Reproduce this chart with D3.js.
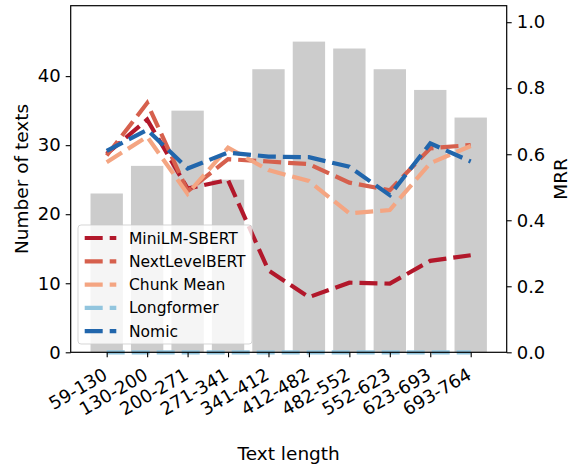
<!DOCTYPE html>
<html lang="en">
	<head>
		<meta charset="utf-8">
		<title>texts by length and MRR</title>
		<script src="https://cdn.jsdelivr.net/npm/d3@7"></script>
		<style type="text/css">
			body { margin: 0; background: #fff; }
			text { font-family: "DejaVu Sans", sans-serif; fill: #000; }
		</style>
	</head>

	<body>
		<script type="text/javascript">

		// chart size
		var w = 571;
		var h = 466;
		var plotLeft = 70.7, plotRight = 506.7, plotTop = 5.7, plotBottom = 352.3;
		var tickFont = 18;
		var labelFont = 18.5;
		var legendFont = 15.5;
		var dash = "18,7";

		// data
		var lengthBins = ["59-130", "130-200", "200-271", "271-341", "341-412",
			"412-482", "482-552", "552-623", "623-693", "693-764"];
		var textCounts = [23, 27, 35, 25, 41, 45, 44, 41, 38, 34];

		var modelNames = ["MiniLM-SBERT", "NextLevelBERT", "Chunk Mean", "Longformer", "Nomic"];
		var miniLM     = [0.601, 0.705, 0.496, 0.522, 0.248, 0.167, 0.211, 0.208, 0.277, 0.294];
		var nextLevel  = [0.596, 0.755, 0.488, 0.585, 0.578, 0.570, 0.514, 0.491, 0.618, 0.628];
		var chunkMean  = [0.576, 0.653, 0.480, 0.620, 0.552, 0.519, 0.421, 0.431, 0.573, 0.625];
		var longformer = [0, 0, 0, 0, 0, 0, 0, 0, 0, 0];
		var nomic      = [0.610, 0.674, 0.557, 0.605, 0.593, 0.591, 0.562, 0.476, 0.633, 0.578];

		var countTicks = [0, 10, 20, 30, 40];
		var mrrTicks = [0, 0.2, 0.4, 0.6, 0.8, 1.0];

		var colors = [
			"#b2182b",  // MiniLM-SBERT
			"#d6604d",  // NextLevelBERT
			"#f4a582",  // Chunk Mean
			"#92c5de",  // Longformer
			"#2166ac"   // Nomic
		];

		var series = [miniLM, nextLevel, chunkMean, longformer, nomic];

		var svg = d3.select("body")
			.append("svg")
			.attr("width", w)
			.attr("height", h);

		// scales
		var x = d3.scaleLinear()
			.domain([-0.89, lengthBins.length - 1 + 0.89])
			.range([plotLeft, plotRight]);
		var yCount = d3.scaleLinear()
			.domain([0, 50.2])
			.range([plotBottom, plotTop]);
		var yMrr = d3.scaleLinear()
			.domain([0, 1.05])
			.range([plotBottom, plotTop]);

		// bars
		var barW = x(0.4) - x(-0.4);
		svg.append("g")
			.selectAll("rect")
			.data(textCounts)
			.enter()
			.append("rect")
			.attr("x", function(d, i) { return x(i) - barW / 2; })
			.attr("y", function(d) { return yCount(d); })
			.attr("width", barW)
			.attr("height", function(d) { return yCount(0) - yCount(d); })
			.attr("fill", "#cccccc");

		// lines
		var line = d3.line()
			.x(function(d, i) { return x(i); })
			.y(function(d) { return yMrr(d); });

		svg.append("g")
			.selectAll("path")
			.data(series)
			.enter()
			.append("path")
			.attr("d", line)
			.attr("fill", "none")
			.attr("stroke", function(d, i) { return colors[i]; })
			.attr("stroke-width", 4.2)
			.attr("stroke-dasharray", dash);

		// axes
		var xAxis = d3.axisBottom(x)
			.tickValues(d3.range(lengthBins.length))
			.tickFormat(function(d) { return lengthBins[d]; })
			.tickSizeOuter(0)
			.tickSize(5);
		var gx = svg.append("g")
			.attr("transform", "translate(0," + plotBottom + ")")
			.call(xAxis);
		gx.select(".domain").remove();
		gx.selectAll("text")
			.attr("font-size", tickFont)
			.attr("text-anchor", "end")
			.attr("dy", null)
			.attr("y", null)
			.attr("transform", "translate(1.5,26) rotate(-30)");

		var gl = svg.append("g")
			.attr("transform", "translate(" + plotLeft + ",0)")
			.call(d3.axisLeft(yCount).tickValues(countTicks).tickSize(5).tickPadding(5));
		gl.select(".domain").remove();
		gl.selectAll("text").attr("font-size", tickFont);

		var gr = svg.append("g")
			.attr("transform", "translate(" + plotRight + ",0)")
			.call(d3.axisRight(yMrr).tickValues(mrrTicks).tickFormat(d3.format(".1f")).tickSize(5).tickPadding(5));
		gr.select(".domain").remove();
		gr.selectAll("text").attr("font-size", tickFont);

		svg.selectAll(".tick line").attr("stroke", "#000").attr("stroke-width", 1.1);

		// frame
		svg.append("rect")
			.attr("x", plotLeft)
			.attr("y", plotTop)
			.attr("width", plotRight - plotLeft)
			.attr("height", plotBottom - plotTop)
			.attr("fill", "none")
			.attr("stroke", "#000")
			.attr("stroke-width", 1.2);

		// axis titles
		svg.append("text")
			.attr("x", (plotLeft + plotRight) / 2)
			.attr("y", 460)
			.attr("text-anchor", "middle")
			.attr("font-size", labelFont)
			.text("Text length");
		svg.append("text")
			.attr("transform", "translate(28," + (plotTop + plotBottom) / 2 + ") rotate(-90)")
			.attr("text-anchor", "middle")
			.attr("font-size", labelFont)
			.text("Number of texts");
		svg.append("text")
			.attr("transform", "translate(567," + (plotTop + plotBottom) / 2 + ") rotate(-90)")
			.attr("text-anchor", "middle")
			.attr("font-size", labelFont)
			.text("MRR");

		// legend
		var lg = svg.append("g").attr("transform", "translate(78,225)");
		lg.append("rect")
			.attr("width", 174)
			.attr("height", 119)
			.attr("rx", 3)
			.attr("fill", "rgba(255,255,255,0.8)")
			.attr("stroke", "rgba(204,204,204,0.8)")
			.attr("stroke-width", 1);
		var items = lg.selectAll("g.item")
			.data(modelNames)
			.enter()
			.append("g")
			.attr("class", "item")
			.attr("transform", function(d, i) { return "translate(0," + (13 + i * 23.3) + ")"; });
		items.append("line")
			.attr("x1", 6.7)
			.attr("x2", 38.3)
			.attr("stroke", function(d, i) { return colors[i]; })
			.attr("stroke-width", 4.2)
			.attr("stroke-dasharray", dash);
		items.append("text")
			.attr("x", 51)
			.attr("y", 5.5)
			.attr("font-size", legendFont)
			.text(function(d) { return d; });

        </script>
	</body>
</html>
